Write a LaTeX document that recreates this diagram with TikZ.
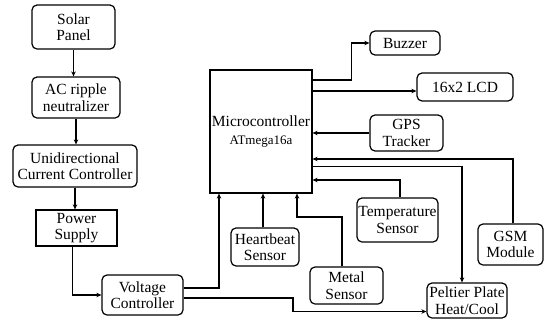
\documentclass[tikz,border=0pt]{standalone}
\usepackage{fontspec}
\setmainfont{Liberation Serif}
\usepackage{tikz}
\usetikzlibrary{arrows.meta,positioning}

\begin{document}
\begin{tikzpicture}[x=1pt,y=-1pt,
    line width=1.2pt,
    >={Stealth[length=5pt,width=4.5pt]},
    blk/.style={draw,rounded corners=5pt,align=center,inner sep=0pt,
      font=\rmfamily\fontsize{15.5}{16.5}\selectfont},
    sq/.style={blk,rounded corners=0pt}]
        \useasboundingbox (0,0) rectangle (544,322);
        \path
        (73.5,27) node[blk,minimum width=83pt,minimum height=44pt](solar) {Solar\\Panel}
        (76,97.5) node[blk,minimum width=88pt,minimum height=41pt](ripple) {AC ripple\\neutralizer}
        (75,166) node[blk,minimum width=124pt,minimum height=42pt](unidir) {Unidirectional\\Current Controller}
        (76.5,228) node[sq,minimum width=81pt,minimum height=36pt](psu) {Power\\Supply}
        (142.5,295) node[blk,minimum width=81pt,minimum height=40pt](vctrl) {Voltage\\Controller}
        (261,131.5) node[sq,minimum width=102pt,minimum height=123pt](mcu) {Microcontroller\\[1pt]{\fontsize{13}{14}\selectfont ATmega16a}}
        (405,43) node[blk,minimum width=70pt,minimum height=24pt](buzzer) {Buzzer}
        (465,87) node[blk,minimum width=96pt,minimum height=28pt](lcd) {16x2 LCD}
        (406.5,133) node[blk,minimum width=73pt,minimum height=36pt](gps) {GPS\\Tracker}
        (510.5,244.5) node[blk,minimum width=65pt,minimum height=41pt](gsm) {GSM\\Module}
        (467,300.5) node[blk,minimum width=80pt,minimum height=35pt](peltier) {Peltier Plate\\Heat/Cool}
        (397.5,220) node[blk,minimum width=81pt,minimum height=44pt](temp) {Temperature\\Sensor}
        (265,247) node[blk,minimum width=68pt,minimum height=38pt](heart) {Heartbeat\\Sensor}
        (346.5,285.5) node[blk,minimum width=73pt,minimum height=37pt](metal) {Metal\\Sensor}
        (293,305) coordinate(bend)
        (297,217) coordinate(mbend)
        ;

        % power chain
        \draw[->] (solar.south) -- (solar.south |- ripple.north);
        \draw[->] (ripple.south) -- (ripple.south |- unidir.north);
        \draw[->] (unidir.south) -- (unidir.south |- psu.north);
        \draw[->] ([xshift=-4pt]psu.south) |- (vctrl.west);
        \draw[->] ([yshift=7pt]vctrl.east) -| ([xshift=-42pt]mcu.south);
        \draw[->] ([yshift=-3pt]vctrl.east) -| (bend) |- ([yshift=-11pt]peltier.west);

        % outputs
        \draw[->] ([yshift=51.5pt]mcu.east) -| ([xshift=-18pt]buzzer.west) -- (buzzer.west);
        \draw[->] ([yshift=40.5pt]mcu.east) coordinate(l1) -- (l1 -| lcd.west);
        \draw[->] ([yshift=-35pt]mcu.east) -| ([xshift=-5pt]peltier.north);

        % inputs
        \draw[->] (gps.west) -- (gps.west -| mcu.east);
        \draw[->] ([xshift=2.5pt]gsm.north) |- ([yshift=-27.5pt]mcu.east);
        \draw[->] ([xshift=2.5pt]temp.north) |- ([yshift=-48.5pt]mcu.east);
        \draw[->] ([xshift=-2pt]heart.north) -- ([xshift=-2pt]heart.north |- mcu.south);
        \draw[->] ([xshift=-4.5pt]metal.north) |- (mbend) -- (mbend |- mcu.south);
      \end{tikzpicture}
\end{document}
